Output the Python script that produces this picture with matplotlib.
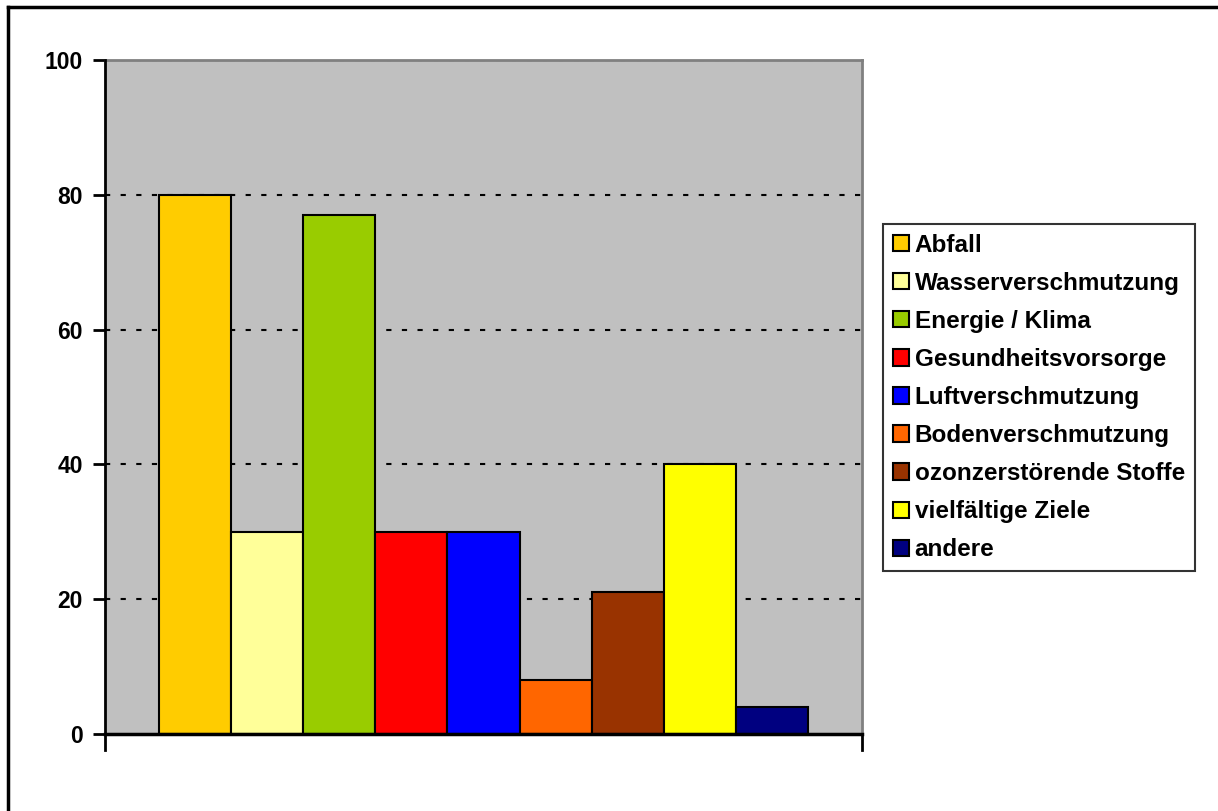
import matplotlib
matplotlib.use("Agg")
import matplotlib.pyplot as plt
from matplotlib.lines import Line2D

plt.rcParams['font.family'] = ['Liberation Sans', 'DejaVu Sans']
plt.rcParams['font.weight'] = 'bold'

categories = ['Abfall', 'Wasserverschmutzung', 'Energie / Klima', 'Gesundheitsvorsorge',
              'Luftverschmutzung', 'Bodenverschmutzung', 'ozonzerstörende Stoffe',
              'vielfältige Ziele', 'andere']
values = [80, 30, 77, 30, 30, 8, 21, 40, 4]
colors = ['#FFCC00', '#FFFF99', '#99CC00', '#FF0000', '#0000FF',
          '#FF6600', '#993300', '#FFFF00', '#000080']
yticks = [0, 20, 40, 60, 80, 100]

fig = plt.figure(figsize=(12.18, 8.11), dpi=100)
ax = fig.add_axes([105 / 1218, 1 - 734 / 811, 757 / 1218, 674 / 811])
ax.set_facecolor('#C0C0C0')

for i, (name, v, c) in enumerate(zip(categories, values, colors)):
    ax.bar(i, v, width=1.0, align='edge', color=c, edgecolor='black',
           linewidth=1.5, label=name, zorder=3)

ax.set_xlim(-0.75, 9.75)
ax.set_ylim(0, 100)
ax.set_yticks(yticks)
ax.set_xticks([])

# dotted grid
for y in yticks[1:]:
    ax.axhline(y, color='black', lw=1.5, linestyle=(0, (2.5, 5)), zorder=2)

for s in ['top', 'right']:
    ax.spines[s].set_color('#808080')
    ax.spines[s].set_linewidth(2)
ax.spines['left'].set_linewidth(2)
ax.spines['bottom'].set_linewidth(2.5)
ax.spines['left'].set_zorder(4)
ax.spines['bottom'].set_zorder(4)

ax.tick_params(axis='y', direction='out', length=9, width=2, pad=7,
               labelsize=16.5)
for lab in ax.get_yticklabels():
    lab.set_fontweight('bold')

# category axis end ticks
for xv in [-0.75, 9.75]:
    ax.plot([xv, xv], [0, -2.3], color='black', lw=2, clip_on=False, zorder=5)

leg = fig.legend(loc='upper left', bbox_to_anchor=(883 / 1218, 1 - 224 / 811),
                 frameon=True, fancybox=False, edgecolor='black', fontsize=17.5,
                 handlelength=0.65, handleheight=0.65, handletextpad=0.25,
                 labelspacing=0.62, borderpad=0.4, borderaxespad=0)
leg.get_frame().set_linewidth(1.5)
for t in leg.get_texts():
    t.set_fontweight('bold')

# outer frame
fig.add_artist(Line2D([8 / 1218, 8 / 1218], [0, 1 - 7 / 811], color='black', lw=2.5,
                      transform=fig.transFigure))
fig.add_artist(Line2D([8 / 1218, 1], [1 - 7 / 811, 1 - 7 / 811], color='black', lw=2.5,
                      transform=fig.transFigure))

fig.savefig('out.png', dpi=100)
